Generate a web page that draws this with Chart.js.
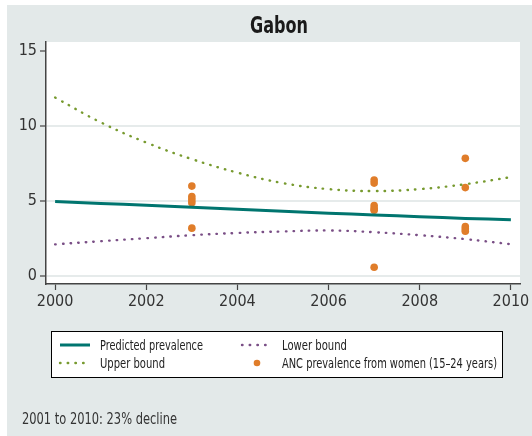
<!DOCTYPE html>
<html>
<head>
<meta charset="utf-8">
<script src="https://cdn.jsdelivr.net/npm/chart.js@4/dist/chart.umd.min.js"></script>
<style>
  html, body { margin: 0; padding: 0; background: #fff; }
  #wrap { position: relative; width: 532px; height: 436px; }
  #panel { position: absolute; left: 7px; top: 5px; width: 525px; height: 431px; background: #e3e9e9; }
  #chart { position: absolute; left: 0; top: 0; }
</style>
</head>
<body>
<div id="wrap">
  <div id="panel"></div>
  <canvas id="chart" width="532" height="436"></canvas>
</div>
<script>
// Data
const years = [2000, 2001, 2002, 2003, 2004, 2005, 2006, 2007, 2008, 2009, 2010];
const predicted = [4.98, 4.85, 4.72, 4.6, 4.46, 4.33, 4.2, 4.08, 3.96, 3.85, 3.76];
const upperBound = [11.9, 10.25, 8.9, 7.8, 6.9, 6.2, 5.8, 5.67, 5.8, 6.13, 6.6];
const lowerBound = [2.12, 2.33, 2.53, 2.73, 2.88, 2.98, 3.05, 2.93, 2.73, 2.47, 2.13];

const ancYears = [2003, 2003, 2003, 2003, 2003, 2007, 2007, 2007, 2007, 2007, 2007, 2009, 2009, 2009, 2009, 2009];
const ancValues = [6.0, 5.3, 5.1, 4.9, 3.2, 6.4, 6.2, 4.7, 4.5, 4.4, 0.6, 7.85, 5.9, 3.3, 3.15, 3.0];

const xTicks = [2000, 2002, 2004, 2006, 2008, 2010];
const yTicks = [0, 5, 10, 15];

const FONT = "'Liberation Sans Narrow', 'DejaVu Sans Condensed', sans-serif";
const DOTS = [0.5, 7.2];

const toXY = (xs, ys) => xs.map((x, i) => ({ x: x, y: ys[i] }));

// white plot area, title, boxed legend and footnote
const decor = {
    id: 'decor',
    beforeDraw(chart) {
        const { ctx, chartArea: a } = chart;
        ctx.save();
        ctx.fillStyle = '#ffffff';
        ctx.fillRect(a.left, a.top, a.right - a.left, a.bottom - a.top);
        ctx.restore();
    },
    afterDraw(chart) {
        const ctx = chart.ctx;
        ctx.save();
        ctx.fillStyle = '#1a1a1a';
        ctx.font = `bold 23px ${FONT}`;
        ctx.textAlign = 'center';
        ctx.textBaseline = 'middle';
        ctx.fillText('Gabon', 279, 27, 58);

        // legend box
        ctx.fillStyle = '#ffffff';
        ctx.fillRect(51, 331, 452, 47);
        ctx.strokeStyle = '#000';
        ctx.lineWidth = 1;
        ctx.strokeRect(51.5, 331.5, 451, 46);

        const slots = [
            { ds: 0, x: 60, y: 345, w: 103 },
            { ds: 2, x: 242, y: 345, w: 65 },
            { ds: 1, x: 60, y: 363, w: 65 },
            { ds: 3, x: 242, y: 363, w: 215 }
        ];
        ctx.font = `14px ${FONT}`;
        ctx.textAlign = 'left';
        slots.forEach(s => {
            const d = chart.data.datasets[s.ds];
            if (d.showLine === false) {
                ctx.fillStyle = d.backgroundColor;
                ctx.beginPath();
                ctx.arc(s.x + 15, s.y, 3.3, 0, Math.PI * 2);
                ctx.fill();
            } else {
                ctx.strokeStyle = d.borderColor;
                ctx.lineWidth = d.borderWidth;
                ctx.lineCap = d.borderDash ? 'round' : 'butt';
                ctx.setLineDash(d.borderDash || []);
                ctx.beginPath();
                ctx.moveTo(s.x, s.y);
                ctx.lineTo(s.x + 30, s.y);
                ctx.stroke();
                ctx.setLineDash([]);
            }
            ctx.fillStyle = '#222';
            ctx.fillText(d.label, s.x + 40, s.y + 1, s.w);
        });

        ctx.fillStyle = '#333';
        ctx.font = `15px ${FONT}`;
        ctx.fillText('2001 to 2010: 23% decline', 22, 420, 155);
        ctx.restore();
    }
};

new Chart(document.getElementById('chart'), {
    type: 'line',
    data: {
        datasets: [
            {
                label: 'Predicted prevalence',
                data: toXY(years, predicted),
                borderColor: '#00756f',
                borderWidth: 3,
                pointRadius: 0,
                tension: 0.4
            },
            {
                label: 'Upper bound',
                data: toXY(years, upperBound),
                borderColor: '#779a2f',
                borderWidth: 2.4,
                borderDash: DOTS,
                borderCapStyle: 'round',
                pointRadius: 0,
                tension: 0.4
            },
            {
                label: 'Lower bound',
                data: toXY(years, lowerBound),
                borderColor: '#7a4f86',
                borderWidth: 2.4,
                borderDash: DOTS,
                borderCapStyle: 'round',
                pointRadius: 0,
                tension: 0.4
            },
            {
                label: 'ANC prevalence from women (15\u201324 years)',
                data: toXY(ancYears, ancValues),
                showLine: false,
                backgroundColor: '#e07d2a',
                borderColor: '#e07d2a',
                borderWidth: 0,
                pointRadius: 3.8
            }
        ]
    },
    options: {
        responsive: false,
        animation: false,
        events: [],
        layout: { padding: { top: 42, right: 12, left: 0, bottom: 0 } },
        plugins: { legend: { display: false }, tooltip: { enabled: false } },
        scales: {
            x: {
                type: 'linear',
                min: 1999.8,
                max: 2010.2,
                afterBuildTicks: s => { s.ticks = xTicks.map(v => ({ value: v })); },
                afterFit: s => { s.height = 152; },
                grid: { display: true, drawOnChartArea: false, tickLength: 6, tickColor: '#444', tickWidth: 1.2 },
                border: { color: '#444', width: 1.5 },
                ticks: { color: '#333', font: { family: FONT, size: 16 }, padding: 2, maxRotation: 0, callback: v => String(v) }
            },
            y: {
                min: -0.52,
                max: 15.6,
                afterBuildTicks: s => { s.ticks = yTicks.map(v => ({ value: v })); },
                afterFit: s => { s.width = 46; },
                grid: {
                    color: ctx => (ctx.tick && ctx.tick.value === 15) ? 'rgba(0,0,0,0)' : '#e6ebeb',
                    lineWidth: 2,
                    tickLength: 6,
                    tickColor: '#444',
                    tickWidth: 1.2
                },
                border: { color: '#444', width: 1.5 },
                ticks: { color: '#333', font: { family: FONT, size: 16 }, padding: 3 }
            }
        }
    },
    plugins: [decor]
});
</script>
</body>
</html>
